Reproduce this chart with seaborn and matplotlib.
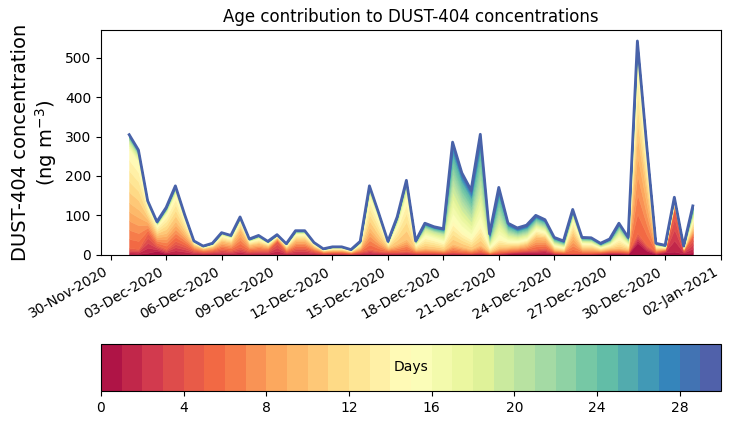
import numpy as np
import pandas as pd
import matplotlib
matplotlib.use("Agg")
import matplotlib.pyplot as plt
import matplotlib.dates as mdates
from matplotlib.colors import ListedColormap, BoundaryNorm
from matplotlib.cm import ScalarMappable
import seaborn as sns

# 12-hourly time axis
dates = pd.date_range("2020-12-01 00:00", "2020-12-31 12:00", freq="12h")

# Contributions per age group (ng m-3)
age_0_1 = [2, 2, 5, 10, 3, 3, 2, 1, 1, 1, 1, 1, 2, 1, 1, 1, 2, 1, 1, 1, 1, 0,
           1, 1, 0, 1, 2, 1, 1, 1, 1, 1, 1, 1, 1, 1, 1, 1, 1, 1, 1, 3, 4, 5,
           5, 5, 2, 1, 1, 1, 1, 2, 3, 3, 2, 30, 10, 2, 6, 8, 3, 6]
age_1_5 = [15, 13, 50, 15, 12, 32, 23, 11, 7, 9, 14, 11, 18, 9, 11, 11, 33, 7,
           17, 17, 9, 5, 5, 5, 4, 7, 13, 9, 7, 7, 9, 5, 5, 5, 4, 7, 5, 4, 7, 2,
           5, 5, 6, 7, 10, 13, 4, 4, 4, 4, 4, 4, 5, 5, 4, 25, 15, 5, 6, 112, 8, 40]
age_5_10 = [115, 100, 35, 25, 40, 50, 30, 12, 8, 10, 20, 18, 45, 15, 17, 10, 8,
            10, 20, 20, 10, 5, 6, 6, 4, 10, 55, 30, 10, 20, 30, 8, 12, 10, 8,
            20, 15, 10, 18, 5, 12, 12, 12, 15, 30, 25, 8, 6, 45, 12, 12, 6, 8,
            10, 8, 245, 130, 8, 4, 10, 4, 20]
age_10_15 = [135, 118, 35, 25, 50, 70, 35, 8, 4, 6, 15, 13, 22, 10, 12, 8, 5,
             7, 15, 15, 7, 3, 5, 5, 3, 10, 80, 50, 10, 50, 110, 12, 30, 25, 20,
             60, 40, 30, 55, 12, 25, 15, 12, 13, 20, 15, 10, 8, 40, 13, 12, 7,
             10, 25, 12, 190, 95, 8, 4, 8, 4, 25]
age_15_20 = [23, 20, 7, 5, 9, 12, 7, 2, 1, 2, 4, 4, 6, 3, 5, 2, 2, 2, 5, 5, 3,
             1, 2, 2, 1, 4, 15, 10, 4, 12, 28, 6, 20, 18, 20, 90, 65, 50, 95,
             15, 50, 20, 15, 15, 15, 13, 9, 7, 13, 7, 7, 5, 7, 20, 9, 35, 20,
             3, 2, 4, 2, 15]
age_20_25 = [10, 8, 3, 2, 4, 5, 3, 1, 1, 1, 2, 2, 2, 1, 2, 1, 1, 1, 2, 2, 1, 1,
             1, 1, 1, 1, 6, 4, 1, 4, 8, 2, 8, 8, 9, 75, 57, 47, 90, 12, 53, 17,
             12, 13, 13, 12, 7, 6, 8, 5, 5, 3, 5, 12, 6, 12, 6, 2, 1, 2, 1, 12]
age_25_30 = [5, 5, 2, 2, 2, 3, 2, 0, 0, 0, 0, 0, 1, 1, 1, 1, 0, 0, 1, 1, 0, 0,
             0, 0, 0, 1, 4, 2, 1, 2, 3, 1, 4, 4, 4, 33, 25, 22, 40, 6, 25, 8, 7,
             7, 7, 6, 4, 3, 4, 2, 2, 2, 2, 5, 3, 6, 4, 1, 1, 2, 0, 6]

age_groups = [(0, 1, age_0_1), (1, 5, age_1_5), (5, 10, age_5_10),
              (10, 15, age_10_15), (15, 20, age_15_20), (20, 25, age_20_25),
              (25, 30, age_25_30)]

n_days = 30
cb_ticks = list(range(0, 29, 4))
tick_dates = pd.date_range("2020-11-30", "2021-01-02", freq="3D")

# one layer per day of age
layers = []
for lo, hi, vals in age_groups:
    for _ in range(hi - lo):
        layers.append(np.asarray(vals, dtype=float) / (hi - lo))
layers = np.array(layers)
total = layers.sum(axis=0)

colors = sns.color_palette("Spectral", n_days)

fig = plt.figure(figsize=(7.3, 4.25), dpi=100)
ax = fig.add_axes([101 / 730, 1 - 254.7 / 425, 620 / 730, 224.4 / 425])
polys = ax.stackplot(dates, layers, colors=colors, linewidth=0)
for poly, c in zip(polys, colors):
    poly.set_edgecolor(c)
    poly.set_linewidth(0.4)
sns.lineplot(x=dates, y=total, ax=ax, color="#4862a9", linewidth=2.0)

ax.set_title("Age contribution to DUST-404 concentrations", fontsize=12)
ax.set_xlabel("")
ax.set_ylabel("DUST-404 concentration\n(ng m$^{-3}$)", fontsize=14)
ax.set_xticks(tick_dates)
ax.xaxis.set_major_formatter(mdates.DateFormatter("%d-%b-%Y"))
for lab in ax.get_xticklabels():
    lab.set_rotation(30)
    lab.set_ha("right")
ax.set_yticks([0, 100, 200, 300, 400, 500])

cax = fig.add_axes([101 / 730, 1 - 391 / 425, 620 / 730, 47 / 425])
cmap = ListedColormap(colors)
norm = BoundaryNorm(np.arange(0, n_days + 1), cmap.N)
sm = ScalarMappable(norm=norm, cmap=cmap)
cb = fig.colorbar(sm, cax=cax, orientation="horizontal", ticks=cb_ticks)
cb.minorticks_off()
cax.text(0.5, 0.5, "Days", transform=cax.transAxes, ha="center",
         va="center", fontsize=10)

fig.savefig("out.png", dpi=100)
